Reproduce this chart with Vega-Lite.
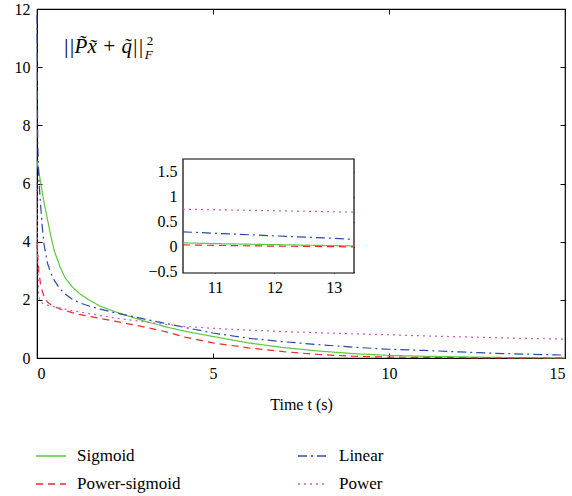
{
  "$schema": "https://vega.github.io/schema/vega-lite/v6.json",
  "width": 528,
  "height": 349,
  "autosize": {"type": "none"},
  "padding": {"left": 37, "top": 9, "right": 7, "bottom": 138},
  "background": "white",
  "config": {
    "font": "Liberation Serif, serif",
    "view": {"stroke": "black", "strokeWidth": 1.2},
    "axis": {
      "grid": false,
      "labelFont": "Liberation Serif, serif",
      "labelFontSize": 16,
      "labelColor": "black",
      "titleFont": "Liberation Serif, serif",
      "titleFontSize": 16,
      "titleFontWeight": "normal",
      "titleColor": "black",
      "domainColor": "black",
      "tickColor": "black",
      "tickSize": -5,
      "labelPadding": 12
    },
    "legend": {
      "labelFont": "Liberation Serif, serif",
      "labelFontSize": 17,
      "labelColor": "black"
    }
  },
  "datasets": {
    "main": [
      {"t": 0, "v": 6.8, "s": "Sigmoid"},
      {"t": 0.1, "v": 6.05, "s": "Sigmoid"},
      {"t": 0.2, "v": 5.35, "s": "Sigmoid"},
      {"t": 0.3, "v": 4.75, "s": "Sigmoid"},
      {"t": 0.4, "v": 4.15, "s": "Sigmoid"},
      {"t": 0.5, "v": 3.65, "s": "Sigmoid"},
      {"t": 0.65, "v": 3.15, "s": "Sigmoid"},
      {"t": 0.8, "v": 2.75, "s": "Sigmoid"},
      {"t": 1.0, "v": 2.45, "s": "Sigmoid"},
      {"t": 1.2, "v": 2.22, "s": "Sigmoid"},
      {"t": 1.5, "v": 1.98, "s": "Sigmoid"},
      {"t": 1.8, "v": 1.78, "s": "Sigmoid"},
      {"t": 2.2, "v": 1.6, "s": "Sigmoid"},
      {"t": 2.7, "v": 1.4, "s": "Sigmoid"},
      {"t": 3.2, "v": 1.22, "s": "Sigmoid"},
      {"t": 3.7, "v": 1.06, "s": "Sigmoid"},
      {"t": 4.2, "v": 0.92, "s": "Sigmoid"},
      {"t": 5, "v": 0.74, "s": "Sigmoid"},
      {"t": 6, "v": 0.52, "s": "Sigmoid"},
      {"t": 7, "v": 0.36, "s": "Sigmoid"},
      {"t": 8, "v": 0.24, "s": "Sigmoid"},
      {"t": 9, "v": 0.15, "s": "Sigmoid"},
      {"t": 10, "v": 0.09, "s": "Sigmoid"},
      {"t": 11, "v": 0.06, "s": "Sigmoid"},
      {"t": 12, "v": 0.04, "s": "Sigmoid"},
      {"t": 13, "v": 0.02, "s": "Sigmoid"},
      {"t": 14, "v": 0.01, "s": "Sigmoid"},
      {"t": 15, "v": 0.005, "s": "Sigmoid"},

      {"t": 0, "v": 11.8, "s": "Linear"},
      {"t": 0.02, "v": 7.5, "s": "Linear"},
      {"t": 0.05, "v": 6.2, "s": "Linear"},
      {"t": 0.1, "v": 5.3, "s": "Linear"},
      {"t": 0.15, "v": 4.5, "s": "Linear"},
      {"t": 0.2, "v": 3.9, "s": "Linear"},
      {"t": 0.3, "v": 3.25, "s": "Linear"},
      {"t": 0.4, "v": 2.9, "s": "Linear"},
      {"t": 0.5, "v": 2.65, "s": "Linear"},
      {"t": 0.65, "v": 2.38, "s": "Linear"},
      {"t": 0.8, "v": 2.2, "s": "Linear"},
      {"t": 1.0, "v": 2.02, "s": "Linear"},
      {"t": 1.2, "v": 1.9, "s": "Linear"},
      {"t": 1.5, "v": 1.78, "s": "Linear"},
      {"t": 1.8, "v": 1.68, "s": "Linear"},
      {"t": 2.2, "v": 1.56, "s": "Linear"},
      {"t": 2.7, "v": 1.43, "s": "Linear"},
      {"t": 3.2, "v": 1.3, "s": "Linear"},
      {"t": 3.7, "v": 1.18, "s": "Linear"},
      {"t": 4.2, "v": 1.05, "s": "Linear"},
      {"t": 5, "v": 0.86, "s": "Linear"},
      {"t": 6, "v": 0.68, "s": "Linear"},
      {"t": 7, "v": 0.56, "s": "Linear"},
      {"t": 8, "v": 0.46, "s": "Linear"},
      {"t": 9, "v": 0.37, "s": "Linear"},
      {"t": 10, "v": 0.3, "s": "Linear"},
      {"t": 11, "v": 0.26, "s": "Linear"},
      {"t": 12, "v": 0.21, "s": "Linear"},
      {"t": 13, "v": 0.16, "s": "Linear"},
      {"t": 14, "v": 0.13, "s": "Linear"},
      {"t": 15, "v": 0.1, "s": "Linear"},

      {"t": 0, "v": 4.0, "s": "Power-sigmoid"},
      {"t": 0.03, "v": 3.3, "s": "Power-sigmoid"},
      {"t": 0.06, "v": 2.9, "s": "Power-sigmoid"},
      {"t": 0.1, "v": 2.55, "s": "Power-sigmoid"},
      {"t": 0.15, "v": 2.3, "s": "Power-sigmoid"},
      {"t": 0.2, "v": 2.12, "s": "Power-sigmoid"},
      {"t": 0.3, "v": 1.92, "s": "Power-sigmoid"},
      {"t": 0.4, "v": 1.82, "s": "Power-sigmoid"},
      {"t": 0.5, "v": 1.76, "s": "Power-sigmoid"},
      {"t": 0.65, "v": 1.69, "s": "Power-sigmoid"},
      {"t": 0.8, "v": 1.63, "s": "Power-sigmoid"},
      {"t": 1.0, "v": 1.56, "s": "Power-sigmoid"},
      {"t": 1.2, "v": 1.5, "s": "Power-sigmoid"},
      {"t": 1.5, "v": 1.43, "s": "Power-sigmoid"},
      {"t": 1.8, "v": 1.36, "s": "Power-sigmoid"},
      {"t": 2.2, "v": 1.27, "s": "Power-sigmoid"},
      {"t": 2.7, "v": 1.15, "s": "Power-sigmoid"},
      {"t": 3.2, "v": 1.03, "s": "Power-sigmoid"},
      {"t": 3.7, "v": 0.89, "s": "Power-sigmoid"},
      {"t": 4.2, "v": 0.72, "s": "Power-sigmoid"},
      {"t": 5, "v": 0.52, "s": "Power-sigmoid"},
      {"t": 6, "v": 0.35, "s": "Power-sigmoid"},
      {"t": 7, "v": 0.22, "s": "Power-sigmoid"},
      {"t": 8, "v": 0.12, "s": "Power-sigmoid"},
      {"t": 9, "v": 0.06, "s": "Power-sigmoid"},
      {"t": 10, "v": 0.03, "s": "Power-sigmoid"},
      {"t": 11, "v": 0.02, "s": "Power-sigmoid"},
      {"t": 12, "v": 0.01, "s": "Power-sigmoid"},
      {"t": 13, "v": 0.0, "s": "Power-sigmoid"},
      {"t": 14, "v": 0.0, "s": "Power-sigmoid"},
      {"t": 15, "v": 0.0, "s": "Power-sigmoid"},

      {"t": 0, "v": 6.0, "s": "Power"},
      {"t": 0.02, "v": 3.5, "s": "Power"},
      {"t": 0.05, "v": 2.1, "s": "Power"},
      {"t": 0.1, "v": 1.92, "s": "Power"},
      {"t": 0.2, "v": 1.86, "s": "Power"},
      {"t": 0.3, "v": 1.82, "s": "Power"},
      {"t": 0.5, "v": 1.76, "s": "Power"},
      {"t": 0.8, "v": 1.68, "s": "Power"},
      {"t": 1.0, "v": 1.63, "s": "Power"},
      {"t": 1.5, "v": 1.52, "s": "Power"},
      {"t": 1.8, "v": 1.46, "s": "Power"},
      {"t": 2.2, "v": 1.38, "s": "Power"},
      {"t": 2.7, "v": 1.3, "s": "Power"},
      {"t": 3.2, "v": 1.22, "s": "Power"},
      {"t": 3.7, "v": 1.15, "s": "Power"},
      {"t": 4.2, "v": 1.09, "s": "Power"},
      {"t": 5, "v": 1.02, "s": "Power"},
      {"t": 6, "v": 0.96, "s": "Power"},
      {"t": 7, "v": 0.91, "s": "Power"},
      {"t": 8, "v": 0.87, "s": "Power"},
      {"t": 9, "v": 0.83, "s": "Power"},
      {"t": 10, "v": 0.8, "s": "Power"},
      {"t": 11, "v": 0.76, "s": "Power"},
      {"t": 12, "v": 0.73, "s": "Power"},
      {"t": 13, "v": 0.7, "s": "Power"},
      {"t": 14, "v": 0.67, "s": "Power"},
      {"t": 15, "v": 0.65, "s": "Power"}
    ],
    "inset": [
      {"t": 10.46, "v": 0.08, "s": "Sigmoid"},
      {"t": 11, "v": 0.065, "s": "Sigmoid"},
      {"t": 12, "v": 0.045, "s": "Sigmoid"},
      {"t": 13, "v": 0.025, "s": "Sigmoid"},
      {"t": 13.34, "v": 0.02, "s": "Sigmoid"},
      {"t": 10.46, "v": 0.3, "s": "Linear"},
      {"t": 11, "v": 0.27, "s": "Linear"},
      {"t": 12, "v": 0.22, "s": "Linear"},
      {"t": 13, "v": 0.17, "s": "Linear"},
      {"t": 13.34, "v": 0.15, "s": "Linear"},
      {"t": 10.46, "v": 0.04, "s": "Power-sigmoid"},
      {"t": 11, "v": 0.03, "s": "Power-sigmoid"},
      {"t": 12, "v": 0.015, "s": "Power-sigmoid"},
      {"t": 13, "v": 0.005, "s": "Power-sigmoid"},
      {"t": 13.34, "v": 0.0, "s": "Power-sigmoid"},
      {"t": 10.46, "v": 0.75, "s": "Power"},
      {"t": 11, "v": 0.74, "s": "Power"},
      {"t": 12, "v": 0.72, "s": "Power"},
      {"t": 13, "v": 0.7, "s": "Power"},
      {"t": 13.34, "v": 0.69, "s": "Power"}
    ]
  },
  "layer": [
    {
      "layer": [
        {
          "data": {"name": "main"},
          "mark": {"type": "line", "strokeWidth": 1.2},
          "encoding": {
            "x": {"field": "t", "type": "quantitative", "scale": {"domain": [0, 15], "nice": false},
                  "axis": {"orient": "bottom", "values": [0, 5, 10, 15], "title": "Time t (s)", "titlePadding": 15}},
            "y": {"field": "v", "type": "quantitative", "scale": {"domain": [0, 12], "nice": false},
                  "axis": {"orient": "left", "values": [0, 2, 4, 6, 8, 10, 12], "title": null}},
            "color": {"field": "s", "type": "nominal",
                      "scale": {"domain": ["Sigmoid", "Power-sigmoid", "Linear", "Power"],
                                "range": ["#5cc83c", "#f02828", "#2a4aa8", "#cc55cc"]},
                      "legend": {"title": null, "orient": "none", "legendX": -2, "legendY": 431, "columns": 2,
                                 "columnPadding": 114, "rowPadding": 4, "symbolSize": 900, "symbolStrokeWidth": 1.3,
                                 "labelOffset": 10, "padding": 0}},
            "strokeDash": {"field": "s", "type": "nominal",
                           "scale": {"domain": ["Sigmoid", "Power-sigmoid", "Linear", "Power"],
                                     "range": [[1, 0], [7, 5], [9, 4, 2, 4], [2, 4]]},
                           "legend": {"title": null, "orient": "none", "legendX": -2, "legendY": 431, "columns": 2,
                                      "columnPadding": 114, "rowPadding": 4, "symbolSize": 900, "symbolStrokeWidth": 1.3,
                                      "labelOffset": 10, "padding": 0}},
            "order": {"field": "t", "type": "quantitative"}
          }
        },
        {
          "data": {"name": "main"},
          "mark": {"type": "point", "opacity": 0},
          "encoding": {
            "x": {"field": "t", "type": "quantitative",
                  "axis": {"orient": "top", "values": [0, 5, 10, 15], "labels": false, "domain": false, "title": null}},
            "y": {"field": "v", "type": "quantitative",
                  "axis": {"orient": "right", "values": [0, 2, 4, 6, 8, 10, 12], "labels": false, "domain": false, "title": null}}
          }
        },
        {
          "data": {"values": [{"label": "||P̃x̃ + q̃||"}]},
          "mark": {"type": "text", "font": "Liberation Serif, serif", "fontSize": 21, "fontStyle": "italic", "align": "left", "baseline": "middle"},
          "encoding": {
            "x": {"datum": 0.74, "type": "quantitative", "axis": null},
            "y": {"datum": 10.69, "type": "quantitative", "axis": null},
            "text": {"field": "label"}
          }
        },
        {
          "data": {"values": [{"label": "2"}]},
          "mark": {"type": "text", "font": "Liberation Serif, serif", "fontSize": 13, "align": "left", "baseline": "middle"},
          "encoding": {
            "x": {"datum": 3.12, "type": "quantitative", "axis": null},
            "y": {"datum": 10.9, "type": "quantitative", "axis": null},
            "text": {"field": "label"}
          }
        },
        {
          "data": {"values": [{"label": "F"}]},
          "mark": {"type": "text", "font": "Liberation Serif, serif", "fontSize": 13, "fontStyle": "italic", "align": "left", "baseline": "middle"},
          "encoding": {
            "x": {"datum": 3.06, "type": "quantitative", "axis": null},
            "y": {"datum": 10.42, "type": "quantitative", "axis": null},
            "text": {"field": "label"}
          }
        }
      ],
      "resolve": {"axis": {"x": "independent", "y": "independent"}}
    },
    {
      "layer": [
        {
          "data": {"values": [{}]},
          "mark": {"type": "rect", "fill": "white", "stroke": "black", "strokeWidth": 1.2},
          "encoding": {
            "x": {"datum": 10.46, "type": "quantitative",
                  "scale": {"domain": [10.46, 13.34], "range": [146, 317], "nice": false, "zero": false},
                  "axis": {"orient": "bottom", "offset": -85, "values": [11, 12, 13], "format": "d", "title": null, "domain": false, "labelPadding": 11}},
            "x2": {"datum": 13.34},
            "y": {"datum": -0.52, "type": "quantitative",
                  "scale": {"domain": [-0.52, 1.75], "range": [264, 150], "nice": false, "zero": false},
                  "axis": {"orient": "left", "offset": -146, "values": [-0.5, 0, 0.5, 1, 1.5], "format": "~g", "title": null, "domain": false, "labelPadding": 11}},
            "y2": {"datum": 1.75}
          }
        },
        {
          "data": {"name": "inset"},
          "mark": {"type": "line", "strokeWidth": 1.2},
          "encoding": {
            "x": {"field": "t", "type": "quantitative", "axis": {"orient": "top", "offset": -150, "values": [11, 12, 13], "labels": false, "domain": false, "title": null}},
            "y": {"field": "v", "type": "quantitative", "axis": {"orient": "right", "offset": -211, "values": [-0.5, 0, 0.5, 1, 1.5], "labels": false, "domain": false, "title": null}},
            "color": {"field": "s", "type": "nominal", "legend": null},
            "strokeDash": {"field": "s", "type": "nominal", "legend": null},
            "order": {"field": "t", "type": "quantitative"}
          }
        }
      ],
      "resolve": {"axis": {"x": "independent", "y": "independent"}}
    }
  ],
  "resolve": {"scale": {"x": "independent", "y": "independent"}}
}
